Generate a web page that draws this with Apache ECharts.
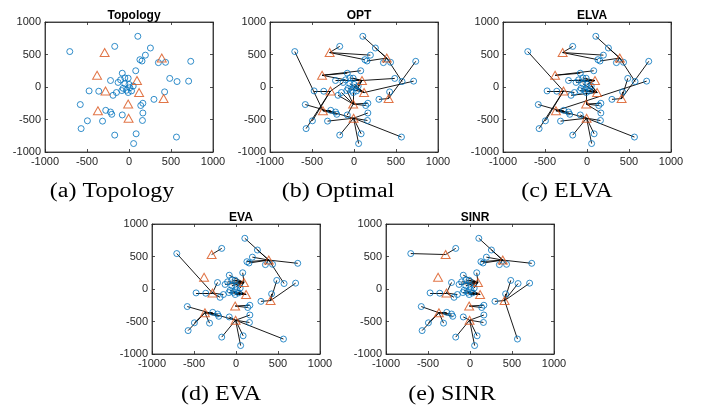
<!DOCTYPE html>
<html>
<head>
<meta charset="utf-8">
<script src="https://cdn.jsdelivr.net/npm/echarts@6/dist/echarts.min.js"></script>
<style>html,body{margin:0;padding:0;background:#fff}#c{width:704px;height:411px}</style>
</head>
<body>
<div id="c"></div>
<script>
// ---- data ----
const tickValues = [-1000, -500, 0, 500, 1000];
const panelTitles = ['Topology', 'OPT', 'ELVA', 'EVA', 'SINR'];
const captions = ['(a) Topology', '(b) Optimal', '(c) ELVA', '(d) EVA', '(e) SINR'];

const userX = [-705,105,-170,255,195,130,155,350,435,735,80,-80,-220,-130,-100,-50,-10,-50,50,485,572,710,-475,-360,-150,-190,424,297,165,140,-580,-277,-220,-205,-80,165,-495,-315,160,-570,-170,85,565,55,-70,-85,-30,-10,10,30,0];
const userY = [545,780,625,600,490,420,400,375,380,395,250,212,100,70,110,140,135,50,15,132,84,90,-60,-65,-85,-128,-75,-190,-250,-285,-270,-359,-385,-420,-430,-400,-520,-525,-515,-640,-740,-720,-770,-870,-20,-55,-50,-85,-10,-60,40];

const bsX = [-290,390,-380,95,-280,120,-10,412,-370,-5];
const bsY = [530,445,180,100,-62,-85,-262,-178,-365,-480];

const assignOPT  = [8,1,0,1,0,0,1,1,1,7, 2,2,3,4,2,3,3,5,3, 3,1,5,4,4,6,6, 7,7,6,6,9,8,8,8,6,9,4,9,9,4,9,9,9,9, 5,6,3,6,5,3,5];
const assignELVA = [4,1,0,1,0,0,1,1,1,7, 2,2,3,3,3,3,5,5,5, 7,1,8,4,4,4,5, 7,7,6,6,9,8,8,8,9,6,4,9,9,4,9,9,9,9, 5,5,5,6,5,5,3];
const assignEVA  = [4,1,0,1,1,1,1,1,1,1, 3,3,4,3,3,3,3,3,3, 7,1,7,4,4,4,4, 7,7,6,6,9,8,8,8,9,9,8,8,9,8,9,9,9,9, 5,5,5,5,5,5,3];
const assignSINR = [0,1,0,1,1,1,1,1,1,1, 3,3,4,3,3,3,3,3,3, 7,7,7,4,4,4,4, 7,7,6,6,8,8,8,8,9,9,8,8,9,8,9,9,7,9, 5,5,5,5,5,5,3];
const assignments = [null, assignOPT, assignELVA, assignEVA, assignSINR];

// ---- layout ----
const grids = [
  {left: 45,  top: 22,  width: 168, height: 130},
  {left: 270, top: 22,  width: 168, height: 130},
  {left: 503, top: 22,  width: 168, height: 130},
  {left: 152, top: 224, width: 168, height: 130},
  {left: 386, top: 224, width: 168, height: 130}
];
const captionPos = [[112,192],[338,192],[567,192],[221,395],[452,395]];

const axisColor = '#262626';
const tickFont = {fontFamily: 'Liberation Sans', fontSize: 11, color: axisColor};
const fmt = v => String(v);

const option = {
  animation: false,
  backgroundColor: '#fff',
  grid: [], xAxis: [], yAxis: [], series: [], title: [], graphic: []
};

grids.forEach((g, i) => {
  option.grid.push(Object.assign({show: true, borderColor: axisColor, borderWidth: 0.8, backgroundColor: '#fff'}, g));
  const base = {
    min: -1000, max: 1000, interval: 500, gridIndex: i,
    axisLine: {show: true, onZero: false, lineStyle: {color: axisColor, width: 0.8}},
    axisTick: {show: true, inside: true, length: 3, lineStyle: {color: axisColor, width: 0.8}},
    splitLine: {show: false}
  };
  option.xAxis.push(Object.assign({}, base, {type: 'value', position: 'bottom',
    axisLabel: Object.assign({margin: 4, formatter: fmt}, tickFont)}));
  option.yAxis.push(Object.assign({}, base, {type: 'value', position: 'left',
    axisLabel: Object.assign({margin: 4, formatter: fmt}, tickFont)}));
});
// mirrored ticks on top/right (box)
grids.forEach((g, i) => {
  const base = {
    min: -1000, max: 1000, interval: 500, gridIndex: i,
    axisLine: {show: true, onZero: false, lineStyle: {color: axisColor, width: 0.8}},
    axisTick: {show: true, inside: true, length: 3, lineStyle: {color: axisColor, width: 0.8}},
    axisLabel: {show: false}, splitLine: {show: false}
  };
  option.xAxis.push(Object.assign({}, base, {type: 'value', position: 'top'}));
  option.yAxis.push(Object.assign({}, base, {type: 'value', position: 'right'}));
});

const users = userX.map((x, k) => [x, userY[k]]);
const bss = bsX.map((x, k) => [x, bsY[k]]);

grids.forEach((g, i) => {
  const asg = assignments[i];
  if (asg) {
    option.series.push({
      type: 'lines', coordinateSystem: 'cartesian2d', xAxisIndex: i, yAxisIndex: i,
      z: 2, silent: true,
      lineStyle: {color: '#000', width: 0.9, opacity: 1},
      data: users.map((u, k) => ({coords: [u, bss[asg[k]]]}))
    });
  }
  option.series.push({
    type: 'scatter', xAxisIndex: i, yAxisIndex: i, z: 3,
    symbol: 'circle', symbolSize: 6,
    itemStyle: {color: 'rgba(0,0,0,0)', borderColor: '#0072BD', borderWidth: 1},
    data: users
  });
  option.series.push({
    type: 'scatter', xAxisIndex: i, yAxisIndex: i, z: 4,
    symbol: 'triangle', symbolSize: [9, 8],
    itemStyle: {color: 'rgba(0,0,0,0)', borderColor: '#D95319', borderWidth: 1},
    data: bss
  });
  option.title.push({
    text: panelTitles[i], left: g.left + g.width / 2, top: g.top - 17, textAlign: 'center',
    textStyle: {fontFamily: 'Liberation Sans', fontSize: 12, fontWeight: 'bold', color: '#000'}
  });
  option.graphic.push({
    type: 'text', x: captionPos[i][0], y: captionPos[i][1], scaleX: 1.2, scaleY: 1,
    style: {text: captions[i], fontFamily: 'Liberation Serif', fontSize: 20, fill: '#000',
      align: 'center', verticalAlign: 'middle', textAlign: 'center', textVerticalAlign: 'middle'}
  });
});

const chart = echarts.init(document.getElementById('c'), null, {renderer: 'canvas'});
chart.setOption(option);
</script>
</body>
</html>
